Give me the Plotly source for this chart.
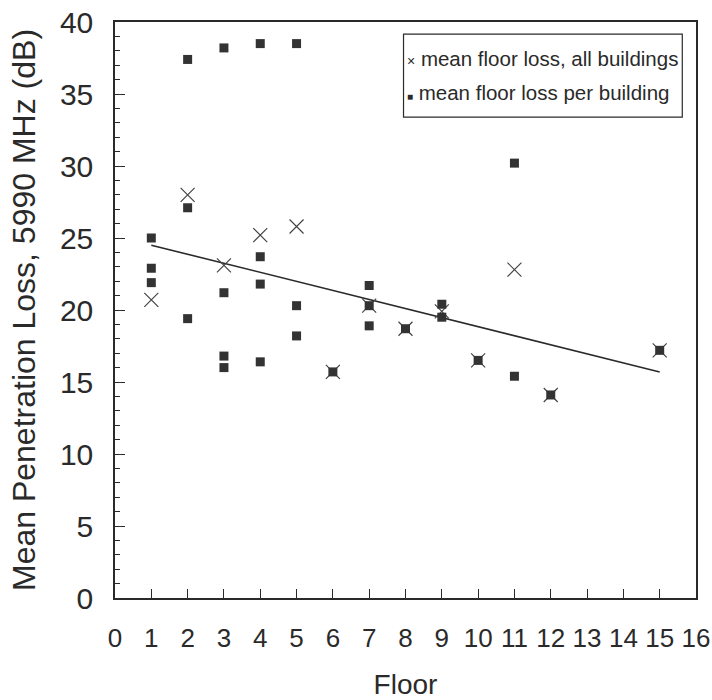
import plotly.graph_objects as go

# Mean floor loss over all buildings (x markers)
floors_all = [1, 2, 3, 4, 5, 6, 7, 8, 9, 10, 11, 12, 15]
loss_all = [20.7, 28.0, 23.1, 25.2, 25.8, 15.7, 20.3, 18.7, 19.9, 16.5, 22.8, 14.1, 17.2]

# Mean floor loss per building (squares)
floors_bldg = [1, 1, 1, 2, 2, 2, 3, 3, 3, 3, 4, 4, 4, 4, 5, 5, 5,
               6, 7, 7, 7, 8, 9, 9, 10, 11, 11, 12, 15]
loss_bldg = [25.0, 22.9, 21.9, 37.4, 27.1, 19.4, 38.2, 21.2, 16.8, 16.0,
             38.5, 23.7, 21.8, 16.4, 38.5, 20.3, 18.2,
             15.7, 21.7, 20.3, 18.9, 18.7, 20.4, 19.5, 16.5, 30.2, 15.4, 14.1, 17.2]

# Linear regression line endpoints
fit_x = [1, 15]
fit_y = [24.5, 15.7]

x_ticks = list(range(0, 17))
y_ticks = list(range(0, 41, 5))

legend_labels = ["mean floor loss, all buildings", "mean floor loss per building"]

FONT = "Liberation Sans Narrow, Liberation Sans, Arial, sans-serif"
INK = "#2a2a2a"

fig = go.Figure()
fig.add_trace(go.Scatter(
    x=fit_x, y=fit_y, mode="lines",
    line=dict(color=INK, width=1.6), showlegend=False, hoverinfo="skip"))
fig.add_trace(go.Scatter(
    x=floors_all, y=loss_all, mode="markers",
    name=legend_labels[0], showlegend=False,
    marker=dict(symbol="x-thin-open", size=14, line=dict(color="#444444", width=1.2), color="#444444")))
fig.add_trace(go.Scatter(
    x=floors_bldg, y=loss_bldg, mode="markers",
    name=legend_labels[1], showlegend=False,
    marker=dict(symbol="square", size=9, color="#333333", line=dict(width=0))))

# Legend box drawn as a framed text block, like the original figure
fig.add_shape(type="rect", xref="paper", yref="paper",
              x0=0.4966, x1=0.9764, y0=0.835, y1=0.979,
              line=dict(color=INK, width=1.2), fillcolor="white", layer="above")
fig.add_annotation(xref="paper", yref="paper", x=0.4985, y=0.9375,
                   xanchor="left", yanchor="middle", showarrow=False,
                   text="<span style='font-size:14px'>×</span> " + legend_labels[0],
                   font=dict(size=20.5, family=FONT, color=INK))
fig.add_annotation(xref="paper", yref="paper", x=0.4985, y=0.878,
                   xanchor="left", yanchor="middle", showarrow=False,
                   text="<span style='font-size:10px'>■</span> " + legend_labels[1],
                   font=dict(size=20.5, family=FONT, color=INK))

fig.update_layout(
    width=712, height=700,
    margin=dict(l=115, r=16, t=22, b=102, autoexpand=False),
    paper_bgcolor="white", plot_bgcolor="white",
    font=dict(family=FONT, color=INK, size=20),
    showlegend=False,
    xaxis=dict(
        range=[0, 16], tickmode="array", tickvals=x_ticks,
        ticktext=[str(v) for v in x_ticks], automargin=False,
        ticks="inside", ticklen=9, tickcolor=INK, tickwidth=1,
        showline=True, linecolor=INK, linewidth=1.5, mirror=True,
        showgrid=False, zeroline=False,
        tickfont=dict(size=26, family=FONT, color=INK),
        ticklabelstandoff=16, ticklabeloverflow="allow",
        title=dict(text="Floor", font=dict(size=28, family=FONT, color=INK), standoff=24),
    ),
    yaxis=dict(
        range=[0, 40], tickmode="array", tickvals=y_ticks, automargin=False,
        ticks="inside", ticklen=10, tickcolor=INK, tickwidth=1,
        minor=dict(dtick=1, ticks="inside", ticklen=5, tickcolor=INK, showgrid=False),
        showline=True, linecolor=INK, linewidth=1.5, mirror=True,
        showgrid=False, zeroline=False,
        tickfont=dict(size=30, family=FONT, color=INK),
        ticklabelstandoff=14, ticklabeloverflow="allow",
        title=dict(text="Mean Penetration Loss, 5990 MHz (dB)",
                   font=dict(size=32, family=FONT, color=INK), standoff=15),
    ),
)

fig.write_html("out.html", config={"displayModeBar": False},
               post_script="document.body.style.margin='0px';")
